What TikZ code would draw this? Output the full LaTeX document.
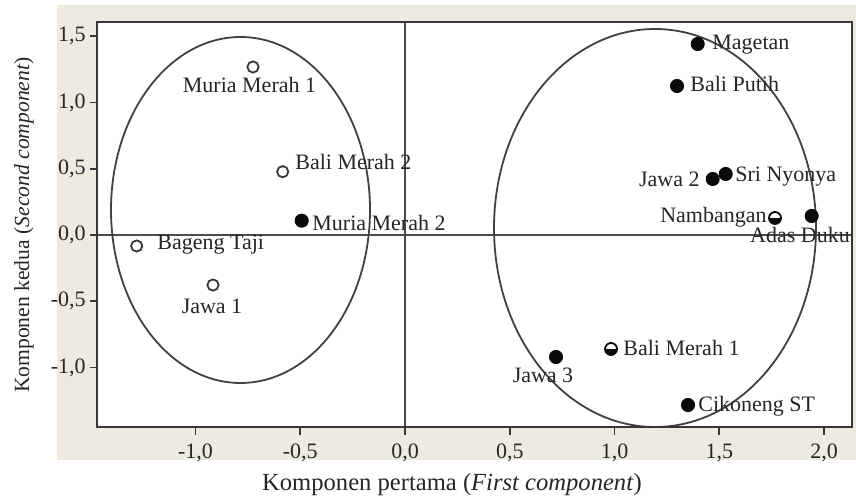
\documentclass[tikz,border=0pt]{standalone}
\usepackage{fontspec}
\setmainfont{Liberation Serif}
\usetikzlibrary{calc}
\definecolor{bgbeige}{RGB}{238,234,223}
\definecolor{ink}{RGB}{55,55,55}
\definecolor{dotc}{RGB}{10,10,10}
\begin{document}
\begin{tikzpicture}[x=0.5pt,y=-0.5pt,
  frameline/.style={draw=ink,line width=1pt},
  zeroline/.style={draw=ink!90,line width=0.6pt},
  tickline/.style={draw=ink,line width=0.8pt},
  clusterline/.style={draw=ink!95,line width=0.9pt},
  openpt/.style={circle,draw=ink,line width=0.9pt,fill=white,inner sep=0pt,minimum size=5.6pt},
  fullpt/.style={circle,fill=dotc,draw=dotc,inner sep=0pt,minimum size=6.6pt},
  halfpt/.style={circle,draw=dotc,line width=0.9pt,fill=white,inner sep=0pt,minimum size=6pt,
     path picture={\fill[dotc] (path picture bounding box.west) rectangle (path picture bounding box.south east);}},
  ptlabel/.style={inner sep=0pt,font=\fontsize{11}{13}\selectfont,text=black!85},
  ticklabel/.style={inner sep=0pt,font=\fontsize{11}{13}\selectfont,text=black!85},
]
\useasboundingbox (0,0) rectangle (856,501);
% backgrounds
\fill[bgbeige] (57,5) rectangle (856,460);
\fill[white] (97,22) rectangle (852,427);
% zero lines
\coordinate (h0l) at (97,235);
\coordinate (h0r) at (852,235);
\coordinate (v0t) at (405,22);
\coordinate (v0b) at (405,427);
\draw[zeroline] (h0l) -- (h0r);
\draw[zeroline] (v0t) -- (v0b);
% cluster ellipses
\draw[clusterline] (240.5,210) ellipse [x radius=64.75pt, y radius=86.5pt];
\draw[clusterline] (655,228) ellipse [x radius=80.5pt, y radius=99.5pt];
% frame
\draw[frameline] (97,22) rectangle (852,427);
% y ticks
\foreach \v/\t in {1.5/{1,5},1/{1,0},0.5/{0,5},0/{0,0},-0.5/{-0,5},-1/{-1,0}}{
  \coordinate (yt) at (97,235-132.5*\v);
  \draw[tickline] (yt) -- ++(-7,0);
  \node[ticklabel,anchor=east] at ($(yt)+(-11,0)$) {\t};
}
% x ticks
\foreach \v/\t in {-1/{-1,0},-0.5/{-0,5},0/{0,0},0.5/{0,5},1/{1,0},1.5/{1,5},2/{2,0}}{
  \coordinate (xt) at (405+209.5*\v,427);
  \draw[tickline] (xt) -- ++(0,8);
  \node[ticklabel,anchor=base] at ($(xt)+(0,32)$) {\t};
}
% axis titles
\node[inner sep=0pt,font=\fontsize{12.3}{14}\selectfont,text=black!85] (xtitle) at (452,485) {Komponen pertama (\textit{First component})};
\node[inner sep=0pt,font=\fontsize{10.8}{13}\selectfont,text=black!85,rotate=90] (ytitle) at (24,225) {Komponen kedua (\textit{Second component})};
% points
\node[openpt] (mm1) at (253,67) {};
\node[openpt] (bm2) at (282.7,171.7) {};
\node[fullpt] (mm2) at (301.7,220.7) {};
\node[openpt] (bt) at (136.7,246) {};
\node[openpt] (j1) at (213,285) {};
\node[fullpt] (mg) at (697.7,44) {};
\node[fullpt] (bp) at (677,86) {};
\node[fullpt] (j2) at (712.7,179) {};
\node[fullpt] (sn) at (725.7,174) {};
\node[halfpt] (nb) at (775,218) {};
\node[fullpt] (ad) at (811.7,216) {};
\node[fullpt] (j3) at (556,357) {};
\node[halfpt] (bm1) at (611,349) {};
\node[fullpt] (ck) at (688,405) {};
% labels
\node[ptlabel,anchor=base] (lmm1) at (249.5,93) {Muria Merah 1};
\node[ptlabel,anchor=base west] (lbm2) at (295,170) {Bali Merah 2};
\node[ptlabel,anchor=base west] (lmm2) at (312,231) {Muria Merah 2};
\node[ptlabel,anchor=base west] (lbt) at (157,250) {Bageng Taji};
\node[ptlabel,anchor=base] (lj1) at (212,314) {Jawa 1};
\node[ptlabel,anchor=base west] (lmg) at (712,50) {Magetan};
\node[ptlabel,anchor=base west] (lbp) at (690,92) {Bali Putih};
\node[ptlabel,anchor=base east] (lj2) at (700,187) {Jawa 2};
\node[ptlabel,anchor=base west] (lsn) at (735,182) {Sri Nyonya};
\node[ptlabel,anchor=base east] (lnb) at (767,223) {Nambangan};
\node[ptlabel,anchor=base] (lad) at (800,243) {Adas Duku};
\node[ptlabel,anchor=base] (lj3) at (543,383) {Jawa 3};
\node[ptlabel,anchor=base west] (lbm1) at (623,356) {Bali Merah 1};
\node[ptlabel,anchor=base west] (lck) at (698,411.7) {Cikoneng ST};
\end{tikzpicture}
\end{document}
